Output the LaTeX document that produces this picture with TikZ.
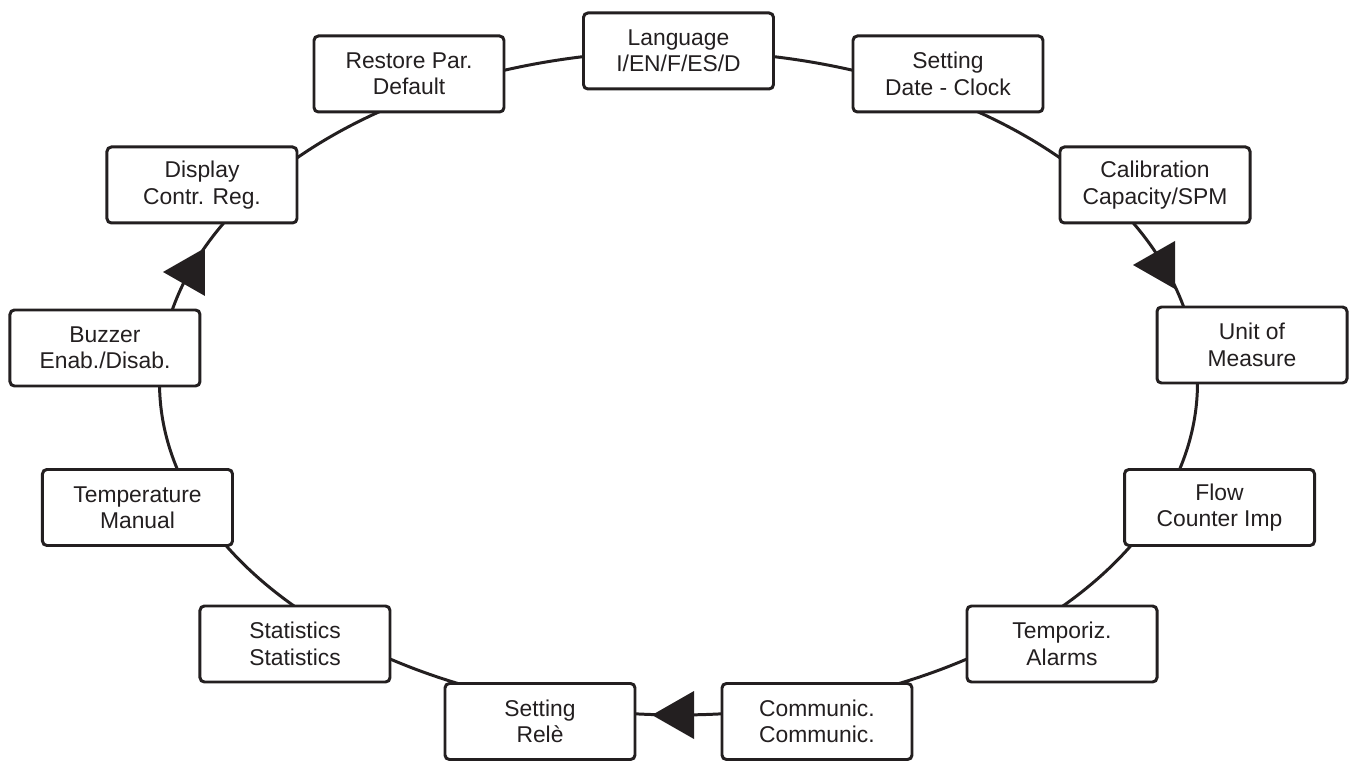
\documentclass[tikz,border=0pt]{standalone}
\usepackage{fontspec}
\setmainfont{Liberation Sans}
\usetikzlibrary{calc, backgrounds}

\definecolor{ink}{RGB}{35,31,32}
\def\rx{10.38} % half axes of the ring
\def\ry{6.64}
\tikzset{
  menubox/.style={draw=ink, line width=1.7pt, rounded corners=2.5pt, fill=white,
    minimum width=3.8cm, minimum height=1.52cm, align=center, text=ink,
    font=\fontsize{13}{15}\selectfont},
  ringlink/.style={draw=ink, line width=1.7pt, to path={
    let \p1=(\tikztostart.center), \p2=(\tikztotarget.center),
        \n1={atan2(\y1/\ry,\x1/\rx)}, \n2={atan2(\y2/\ry,\x2/\rx)},
        \n3={\n2-360*(\n2>\n1)}
    in (\n1:\rx cm and \ry cm) arc[start angle=\n1, end angle=\n3, x radius=\rx cm, y radius=\ry cm]}},
  backtip/.pic={\fill[ink] (0,0) -- (0.84,0.48) -- (0.84,-0.48) -- cycle;}
}

\begin{document}
\begin{tikzpicture}

\useasboundingbox (-13.57,-7.56) rectangle (13.45,7.66);

\node[menubox] (lang)    at (0,6.64)       {Language\\I/EN/F/ES/D};
\node[menubox] (date)    at (5.39,6.18)    {Setting\\Date - Clock};
\node[menubox] (calib)   at (9.53,3.96)    {Calibration\\Capacity/SPM};
\node[menubox] (unit)    at (11.47,0.76)   {Unit of\\Measure};
\node[menubox] (flow)    at (10.82,-2.49)  {Flow\\Counter Imp};
\node[menubox] (tempo)   at (7.67,-5.22)   {Temporiz.\\Alarms};
\node[menubox] (comm)    at (2.77,-6.77)   {Communic.\\Communic.};
\node[menubox] (rele)    at (-2.77,-6.77)  {Setting\\Relè};
\node[menubox] (stats)   at (-7.67,-5.22)  {Statistics\\Statistics};
\node[menubox] (temp)    at (-10.82,-2.49) {Temperature\\Manual};
\node[menubox] (buzz)    at (-11.47,0.7)   {Buzzer\\Enab./Disab.};
\node[menubox] (disp)    at (-9.53,3.96)   {Display\\Contr. Reg.};
\node[menubox] (restore) at (-5.39,6.18)   {Restore Par.\\Default};

\begin{scope}[on background layer]
\foreach \a/\b in {lang/date, date/calib, calib/unit, unit/flow, flow/tempo,
    tempo/comm, comm/rele, rele/stats, stats/temp, temp/buzz, buzz/disp,
    disp/restore, restore/lang} % clockwise round the ring
  \draw[ringlink] (\a) to (\b);
\end{scope}

\pic at (9.09,2.36)   {backtip};
\pic at (-10.31,2.22) {backtip};
\pic at (-0.53,-6.64) {backtip};

\end{tikzpicture}
\end{document}
